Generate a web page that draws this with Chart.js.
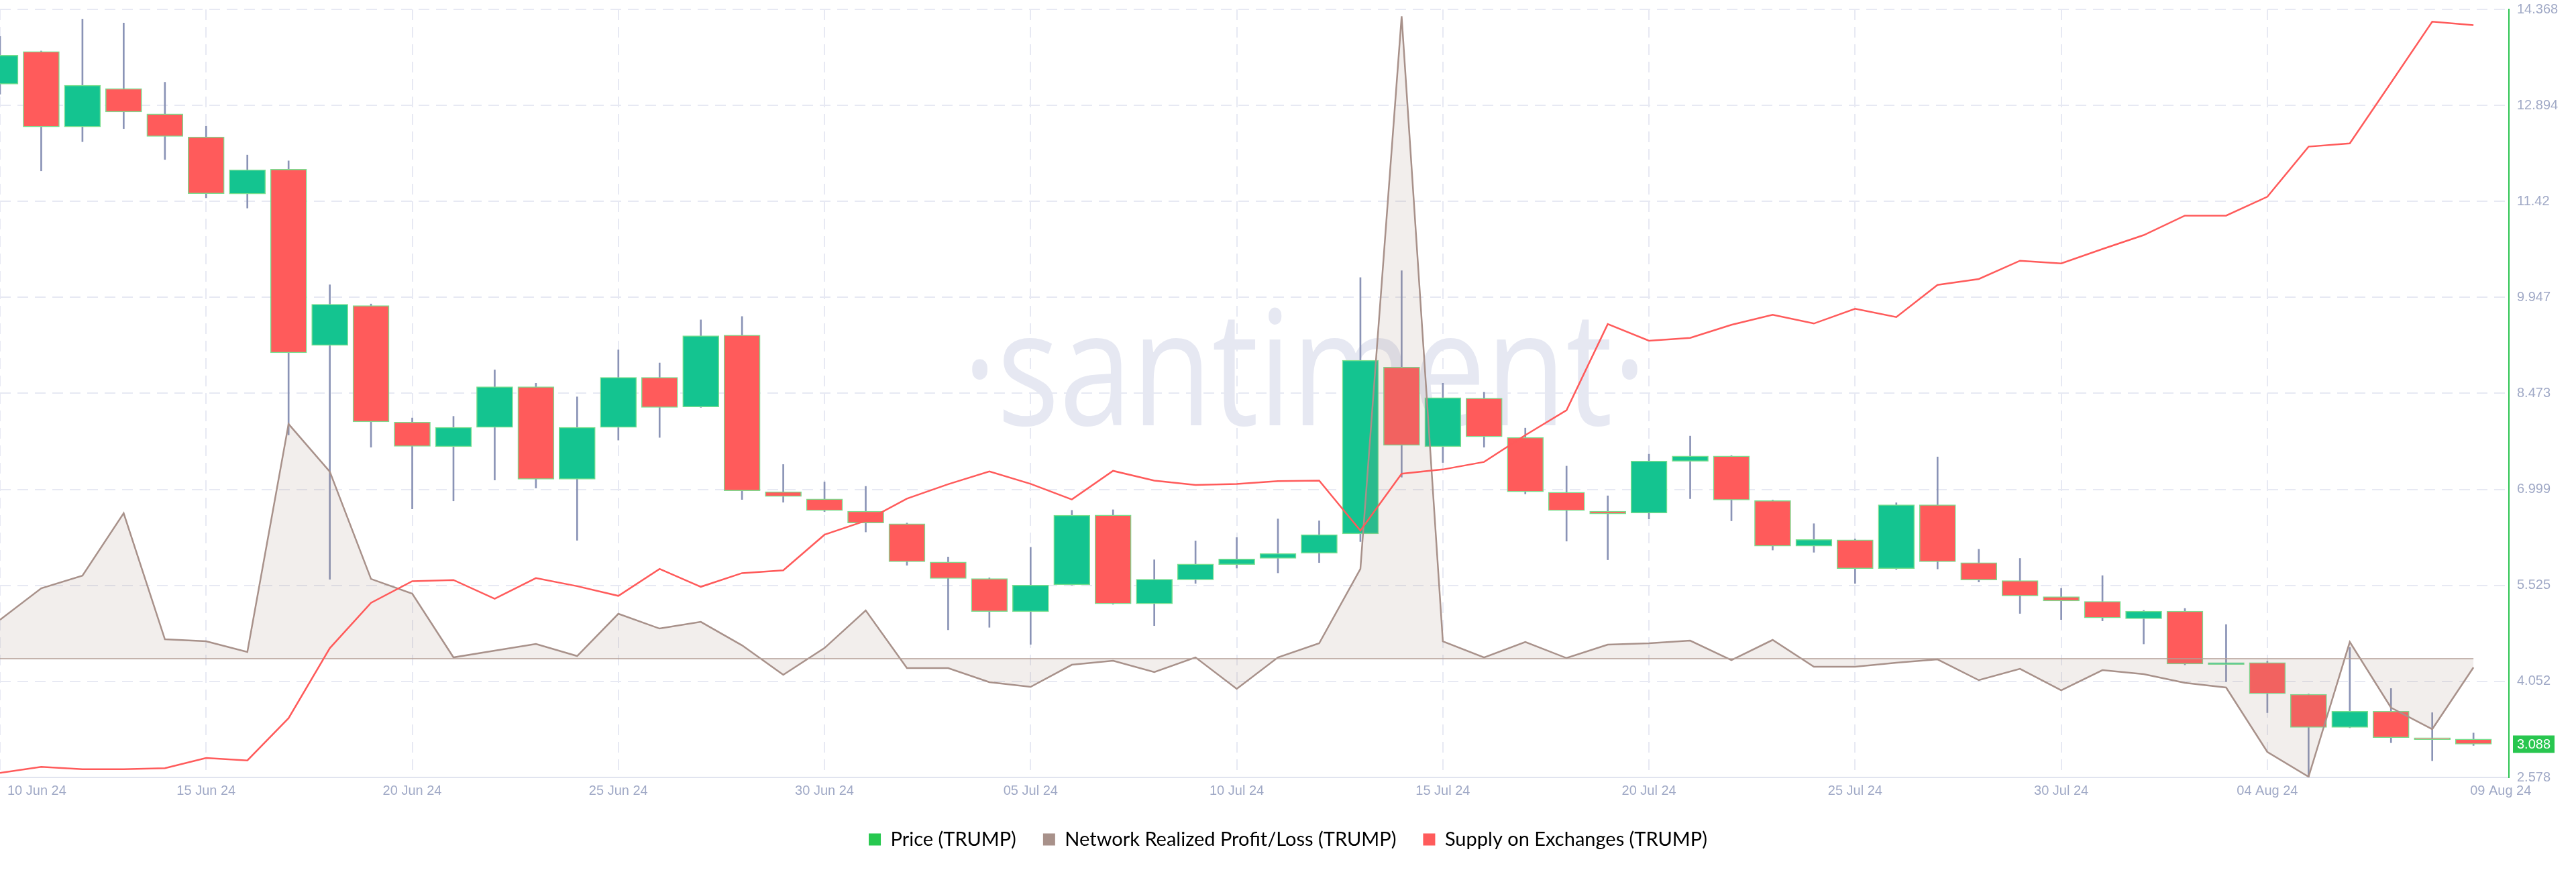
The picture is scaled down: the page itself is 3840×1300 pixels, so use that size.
<!DOCTYPE html>
<html>
<head>
<meta charset="utf-8">
<title>TRUMP - Price, Network Realized Profit/Loss, Supply on Exchanges</title>
<script src="https://cdn.jsdelivr.net/npm/chart.js@4.4.1/dist/chart.umd.min.js"></script>
<style>
  html, body { margin: 0; padding: 0; background: #fff; }
  #wrap { width: 3840px; height: 1300px; }
</style>
</head>
<body>
<div id="wrap"><canvas id="chart"></canvas></div>
<script>
  // day index 0 = 10 Jun 24 ... 60 = 09 Aug 24
  const dateTicks = [0, 5, 10, 15, 20, 25, 30, 35, 40, 45, 50, 55, 60];
  const dateTickLabels = ['10 Jun 24', '15 Jun 24', '20 Jun 24', '25 Jun 24', '30 Jun 24', '05 Jul 24',
      '10 Jul 24', '15 Jul 24', '20 Jul 24', '25 Jul 24', '30 Jul 24', '04 Aug 24', '09 Aug 24'];
  const priceTicks = [2.578, 4.052, 5.525, 6.999, 8.473, 9.947, 11.42, 12.894, 14.368];

  // Price (TRUMP), daily candles
  const open = [13.222, 13.720, 12.564, 13.153, 12.764, 12.410, 11.535, 11.915, 9.210, 9.820,
      8.032, 7.655, 7.951, 8.574, 7.157, 7.951, 8.719, 8.266, 9.367, 6.964,
      6.853, 6.666, 6.473, 5.885, 5.629, 5.121, 5.535, 6.606, 5.244, 5.612,
      5.846, 5.940, 6.021, 6.316, 8.877, 7.655, 8.399, 7.797, 6.956, 6.666,
      6.636, 7.430, 7.511, 6.828, 6.129, 6.226, 5.783, 6.764, 5.876, 5.600,
      5.351, 5.279, 5.015, 5.130, 4.310, 4.340, 3.855, 3.346, 3.593, 3.188, 3.167];
  const high = [13.954, 13.730, 14.219, 14.159, 13.250, 12.576, 12.132, 12.043, 10.139, 9.846,
      8.096, 8.121, 8.834, 8.629, 8.420, 9.141, 8.941, 9.602, 9.653, 7.382,
      7.114, 7.046, 6.483, 5.962, 5.642, 6.111, 6.678, 6.687, 5.919, 6.209,
      6.260, 6.546, 6.517, 10.250, 10.357, 8.629, 8.492, 7.941, 7.357, 6.901,
      7.540, 7.818, 7.519, 6.837, 6.473, 6.239, 6.794, 7.498, 6.081, 5.940,
      5.480, 5.676, 5.142, 5.172, 4.925, 4.362, 3.860, 4.575, 3.943, 3.572, 3.260];
  const low = [13.067, 11.889, 12.337, 12.538, 12.064, 11.475, 11.318, 7.835, 5.620, 7.647,
      6.700, 6.823, 7.143, 7.020, 6.218, 7.756, 7.797, 8.258, 6.845, 6.802,
      6.658, 6.346, 5.834, 4.844, 4.882, 4.621, 5.530, 5.236, 4.908, 5.556,
      5.791, 5.718, 5.876, 6.197, 7.187, 7.412, 7.647, 6.930, 6.205, 5.919,
      6.546, 6.857, 6.517, 6.068, 6.034, 5.556, 5.770, 5.778, 5.578, 5.095,
      5.001, 4.981, 4.627, 4.306, 4.046, 3.572, 2.578, 3.340, 3.111, 2.834, 3.068];
  const close = [13.665, 12.564, 13.204, 12.794, 12.418, 11.539, 11.907, 9.098, 9.841, 8.036,
      7.660, 7.951, 8.574, 7.157, 7.951, 8.719, 8.258, 9.359, 6.977, 6.891,
      6.674, 6.483, 5.889, 5.633, 5.125, 5.530, 6.602, 5.244, 5.620, 5.855,
      5.932, 6.017, 6.304, 8.983, 7.677, 8.408, 7.808, 6.964, 6.674, 6.623,
      7.434, 7.511, 6.837, 6.129, 6.230, 5.783, 6.764, 5.889, 5.608, 5.365,
      5.287, 5.027, 5.130, 4.319, 4.340, 3.863, 3.346, 3.593, 3.188, 3.159, 3.088];

  // Network Realized Profit/Loss (TRUMP), millions
  const nrpl = [0.58, 1.05, 1.24, 2.17, 0.29, 0.26, 0.10, 3.50, 2.79, 1.19,
      0.97, 0.02, 0.12, 0.22, 0.04, 0.67, 0.45, 0.55, 0.20, -0.24,
      0.16, 0.72, -0.14, -0.14, -0.35, -0.42, -0.09, -0.03, -0.20, 0.02,
      -0.45, 0.02, 0.23, 1.34, 9.58, 0.26, 0.02, 0.25, 0.01, 0.21,
      0.23, 0.27, -0.02, 0.28, -0.12, -0.12, -0.06, -0.01, -0.32, -0.15,
      -0.47, -0.17, -0.23, -0.36, -0.43, -1.39, -1.76, 0.25, -0.73, -1.05, -0.13];

  // Supply on Exchanges (TRUMP)
  const supply = [0.58, 1.37, 1.08, 1.08, 1.20, 2.53, 2.21, 7.71, 16.83, 22.73,
      25.55, 25.70, 23.27, 25.95, 24.90, 23.64, 27.15, 24.82, 26.60, 26.96,
      31.60, 33.41, 36.30, 38.18, 39.85, 38.22, 36.19, 39.92, 38.65, 38.07,
      38.22, 38.58, 38.65, 32.14, 39.55, 40.10, 41.08, 44.56, 47.81, 59.03,
      56.86, 57.23, 58.93, 60.23, 59.10, 61.02, 59.94, 64.13, 64.89, 67.28,
      66.93, 68.80, 70.61, 73.15, 73.15, 75.61, 82.13, 82.56, 90.46, 98.41, 97.94];

  const UP = '#14c490';
  const DOWN = '#ff5b5b';
  const tickColor = '#a0a9c6';
  const gridColor = '#e7e9f3';
  const tickFont = { family: '"Liberation Sans", Arial, sans-serif', size: 20 };

  const wickData = open.map((o, i) => ({ x: i, y: [low[i], high[i]] }));
  const bodyData = open.map((o, i) => ({ x: i, y: [o, close[i]] }));
  const bodyColors = open.map((o, i) => close[i] >= o ? UP : DOWN);

  // big faint watermark behind the data
  const watermark = {
      id: 'watermark',
      beforeDatasetsDraw(chart) {
          const ctx = chart.ctx;
          const text = '\u00B7santiment\u00B7';
          ctx.save();
          ctx.font = '238px "Open Sans"';
          const w = ctx.measureText(text).width;
          ctx.translate(1945, 634);
          ctx.scale(1020 / w, 1);
          ctx.fillStyle = '#e6e8f2';
          ctx.textAlign = 'center';
          ctx.textBaseline = 'alphabetic';
          ctx.fillText(text, 0, 0);
          ctx.restore();
      }
  };

  // zero line of the profit/loss area
  const zeroLine = {
      id: 'zeroLine',
      afterDatasetDraw(chart, args) {
          if (args.index !== 2) return;
          const { ctx, scales } = chart;
          const y = scales.yNrpl.getPixelForValue(0);
          ctx.save();
          ctx.strokeStyle = '#b39e96';
          ctx.lineWidth = 1.5;
          ctx.beginPath();
          ctx.moveTo(scales.x.getPixelForValue(0), y);
          ctx.lineTo(scales.x.getPixelForValue(nrpl.length - 1), y);
          ctx.stroke();
          ctx.restore();
      }
  };

  // date labels under the chart (first and last kept inside)
  const dateLabels = {
      id: 'dateLabels',
      afterDraw(chart) {
          const { ctx, chartArea, scales } = chart;
          ctx.save();
          ctx.font = '20px "Liberation Sans", Arial, sans-serif';
          ctx.fillStyle = tickColor;
          ctx.textBaseline = 'middle';
          dateTicks.forEach((d, i) => {
              const px = scales.x.getPixelForValue(d);
              const first = i === 0;
              const last = i === dateTicks.length - 1;
              ctx.textAlign = first || last ? 'left' : 'center';
              const tx = first ? px + 11 : (last ? px - 5 : px);
              ctx.fillText(dateTickLabels[i], tx, chartArea.bottom + 20);
          });
          ctx.restore();
      }
  };

  // current price tag on the right axis
  const lastPrice = {
      id: 'lastPrice',
      afterDraw(chart) {
          const { ctx, scales } = chart;
          const value = close[close.length - 1];
          const y = scales.y.getPixelForValue(value);
          const x = scales.y.left + 6;
          ctx.save();
          ctx.fillStyle = '#28c64f';
          ctx.fillRect(x, y - 13, 62, 26);
          ctx.fillStyle = '#ffffff';
          ctx.font = '20px "Liberation Sans", Arial, sans-serif';
          ctx.textBaseline = 'middle';
          ctx.textAlign = 'left';
          ctx.fillText(value.toFixed(3), x + 6, y + 1);
          ctx.restore();
      }
  };

  new Chart(document.getElementById('chart'), {
      type: 'bar',
      data: {
          datasets: [
              {
                  label: '',
                  data: wickData,
                  backgroundColor: '#8a93b6',
                  barThickness: 2,
                  grouped: false,
                  yAxisID: 'y',
                  order: 4
              },
              {
                  label: 'Price (TRUMP)',
                  legendColor: '#27c84f',
                  data: bodyData,
                  backgroundColor: bodyColors,
                  borderColor: '#7ade8e',
                  borderWidth: 1.5,
                  borderSkipped: false,
                  barThickness: 54,
                  grouped: false,
                  yAxisID: 'y',
                  order: 3
              },
              {
                  type: 'line',
                  label: 'Network Realized Profit/Loss (TRUMP)',
                  legendColor: '#a8918a',
                  data: nrpl.map((v, i) => ({ x: i, y: v })),
                  borderColor: '#a8918a',
                  backgroundColor: 'rgba(168, 140, 130, 0.15)',
                  borderWidth: 2.5,
                  fill: 'origin',
                  pointRadius: 0,
                  tension: 0,
                  yAxisID: 'yNrpl',
                  order: 2
              },
              {
                  type: 'line',
                  label: 'Supply on Exchanges (TRUMP)',
                  legendColor: '#ff5b5b',
                  data: supply.map((v, i) => ({ x: i, y: v })),
                  borderColor: '#ff5a5a',
                  borderWidth: 2.5,
                  fill: false,
                  pointRadius: 0,
                  tension: 0,
                  yAxisID: 'ySupply',
                  order: 1
              }
          ]
      },
      options: {
          responsive: true,
          maintainAspectRatio: false,
          animation: false,
          layout: { padding: { top: 14, left: 0, right: 0, bottom: 24 } },
          scales: {
              x: {
                  type: 'linear',
                  min: 0,
                  max: 60.86,
                  offset: false,
                  afterBuildTicks: scale => { scale.ticks = dateTicks.map(v => ({ value: v })); },
                  afterFit: scale => { scale.height = 38; },
                  ticks: { display: false },
                  grid: {
                      offset: false,
                      drawTicks: false,
                      lineWidth: 2,
                      color: ctx => (ctx.tick && ctx.tick.value === 60) ? 'rgba(0,0,0,0)' : gridColor
                  },
                  border: { display: true, color: '#e1e4ef', width: 2, dash: [16, 10] }
              },
              y: {
                  position: 'right',
                  min: 2.578,
                  max: 14.368,
                  afterBuildTicks: scale => { scale.ticks = priceTicks.map(v => ({ value: v })); },
                  afterFit: scale => {
                      scale.width = 100;
                      scale.paddingTop = 0;
                      scale.paddingBottom = 0;
                  },
                  ticks: {
                      color: tickColor,
                      font: tickFont,
                      padding: 12,
                      callback: value => String(value)
                  },
                  grid: { drawTicks: false, lineWidth: 2, color: gridColor },
                  border: { display: true, color: '#2bc450', width: 2, dash: [16, 10] }
              },
              yNrpl: { display: false, min: -1.77, max: 9.683 },
              ySupply: { display: false, min: 0, max: 100 }
          },
          plugins: {
              tooltip: { enabled: false },
              legend: {
                  position: 'bottom',
                  align: 'center',
                  labels: {
                      boxWidth: 18,
                      boxHeight: 18,
                      padding: 40,
                      color: '#1d2030',
                      font: { family: 'Lato, "Noto Sans", sans-serif', size: 29 },
                      generateLabels: chart => chart.data.datasets
                          .map((ds, i) => ({
                              text: ds.label,
                              fillStyle: ds.legendColor,
                              strokeStyle: ds.legendColor,
                              lineWidth: 0,
                              hidden: false,
                              datasetIndex: i
                          }))
                          .filter(item => item.text)
                  }
              }
          }
      },
      plugins: [watermark, zeroLine, dateLabels, lastPrice]
  });
</script>
</body>
</html>
